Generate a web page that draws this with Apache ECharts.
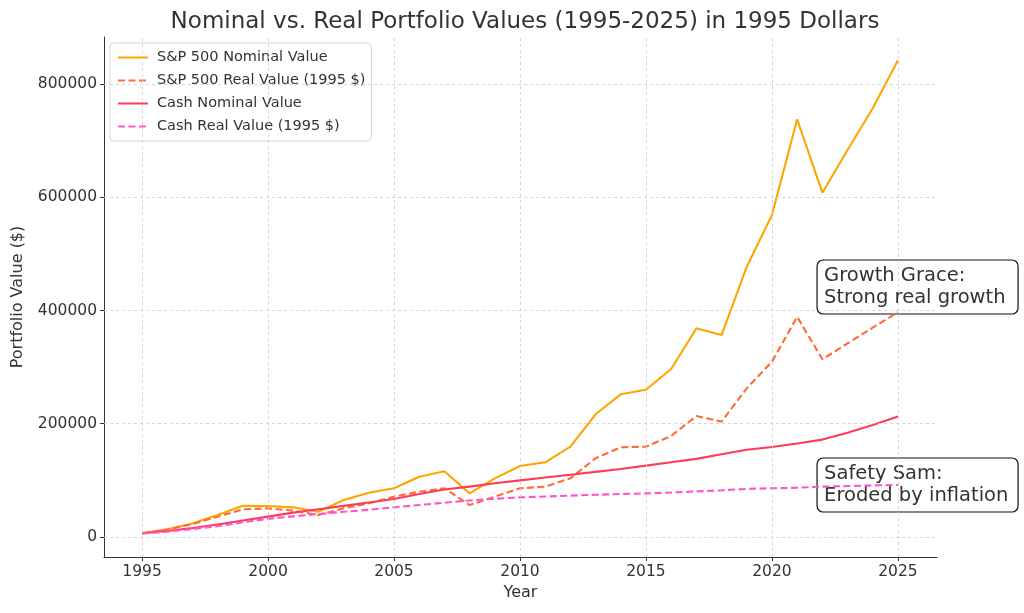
<!DOCTYPE html>
<html>
<head>
<meta charset="utf-8">
<script src="https://cdn.jsdelivr.net/npm/echarts@6/dist/echarts.min.js"></script>
<style>html,body{margin:0;padding:0;background:#fff;}#c{width:1024px;height:613px;}</style>
</head>
<body>
<div id="c"></div>
<script>
const years = [1995,1996,1997,1998,1999,2000,2001,2002,2003,2004,2005,2006,2007,2008,2009,2010,2011,2012,2013,2014,2015,2016,2017,2018,2019,2020,2021,2022,2023,2024,2025];
const spNominal = [6500,13600,24000,38800,55300,54700,52400,44700,65300,78300,86000,106500,116000,77100,103600,125400,131900,159500,216700,252000,260000,296700,368500,356700,477400,568700,737700,608100,683500,757100,842000];
const spReal = [6500,13000,23000,35900,48900,50600,46500,38800,50600,59500,71200,80000,86000,56500,71200,86000,88900,103600,139000,158400,159500,178400,213700,203600,262600,309600,389000,313800,342000,369700,397000];
const cashNominal = [6500,10500,16000,22000,29000,36000,43000,49000,55000,61000,67000,76000,84000,89000,95000,100000,105000,110000,115000,120000,126000,132000,138000,146000,154000,159000,165000,172000,184000,198000,213000];
const cashReal = [6000,9500,14000,19000,26000,32000,36500,40500,44500,48000,52500,56500,60500,64500,67500,70000,71500,73000,74500,76000,77000,78500,80500,82500,85000,86000,87000,89000,90000,91000,92000];
const xTicks = [1995,2000,2005,2010,2015,2020,2025];
const yTicks = [0,200000,400000,600000,800000];
const seriesNames = ['S&P 500 Nominal Value','S&P 500 Real Value (1995 $)','Cash Nominal Value','Cash Real Value (1995 $)'];
const annoText = ['Growth Grace:\nStrong real growth','Safety Sam:\nEroded by inflation'];
const annoX = [2021.79, 2021.79];
const annoY = [441500, 91800];

const colors = ['#FFA500','#FF6B35','#FF3B5C','#FF55CC'];
const dashes = ['solid',[7,3.5],'solid',[7,3.5]];
const FONT = 'DejaVu Sans';
const pairs = arr => years.map((y,i)=>[y,arr[i]]);
const allData = [spNominal, spReal, cashNominal, cashReal];

const chart = echarts.init(document.getElementById('c'));
const series = [{
  type:'line', data:[], silent:true, z:1, symbol:'none',
  markLine:{
    silent:true, symbol:'none', animation:false,
    label:{show:false},
    lineStyle:{color:'#cccccc', type:[3,3], width:0.8},
    data: xTicks.map(v=>({xAxis:v})).concat(yTicks.map(v=>({yAxis:v})))
  }
}];
allData.forEach((arr,i)=>{
  series.push({
    name: seriesNames[i], type:'line', data: pairs(arr), z:3,
    showSymbol:false, symbol:'none', animation:false,
    lineStyle:{color:colors[i], width:2.1, type:dashes[i]},
    itemStyle:{color:colors[i]}
  });
});

chart.setOption({
  animation:false,
  title:{text:'Nominal vs. Real Portfolio Values (1995-2025) in 1995 Dollars', left:520, textAlign:'center', top:6,
    textStyle:{fontFamily:FONT, fontSize:23, fontWeight:'normal', color:'#333'}},
  grid:{left:104, right:87, top:37, bottom:56, outerBoundsMode:'none', containLabel:false},
  legend:{
    left:110, top:43, orient:'vertical', itemWidth:30, itemHeight:12, itemGap:8,
    padding:[7,6,7,7], borderColor:'#d5d5d5', borderWidth:1, borderRadius:4,
    backgroundColor:'rgba(255,255,255,0.8)',
    itemStyle:{opacity:0},
    textStyle:{fontFamily:FONT, fontSize:14.5, color:'#333', padding:[0,0,0,4]},
    data: seriesNames
  },
  xAxis:{
    type:'value', min:1993.49, max:2026.55,
    name:'Year', nameLocation:'middle', nameGap:28,
    nameTextStyle:{fontFamily:FONT, fontSize:16, color:'#333'},
    axisLine:{show:true, onZero:false, lineStyle:{color:'#333', width:1}},
    axisTick:{show:true, inside:false, length:4, customValues:xTicks, lineStyle:{color:'#333'}},
    axisLabel:{customValues:xTicks, margin:7, fontFamily:FONT, fontSize:15.5, color:'#333', formatter:v=>String(v)},
    splitLine:{show:false}
  },
  yAxis:{
    type:'value', min:-35320, max:883000,
    name:'Portfolio Value ($)', nameLocation:'middle', nameGap:78,
    nameTextStyle:{fontFamily:FONT, fontSize:16, color:'#333'},
    axisLine:{show:true, onZero:false, lineStyle:{color:'#333', width:1}},
    axisTick:{show:true, inside:false, length:4, customValues:yTicks, lineStyle:{color:'#333'}},
    axisLabel:{customValues:yTicks, margin:7, fontFamily:FONT, fontSize:15.5, color:'#333', formatter:v=>String(v)},
    splitLine:{show:false}
  },
  series: series
});

const graphics = annoText.map((t,i)=>{
  const p = chart.convertToPixel({gridIndex:0}, [annoX[i], annoY[i]]);
  return {
    type:'group', x:p[0], y:p[1]-27, z:100,
    children:[
      {type:'rect', shape:{x:0,y:0,width:201,height:54,r:6}, style:{fill:'#fff', stroke:'#111', lineWidth:1.2}},
      {type:'text', x:7, y:5, style:{text:t, font:'19.5px "DejaVu Sans"', fill:'#333', lineHeight:22}}
    ]
  };
});
chart.setOption({graphic:graphics});
</script>
</body>
</html>
